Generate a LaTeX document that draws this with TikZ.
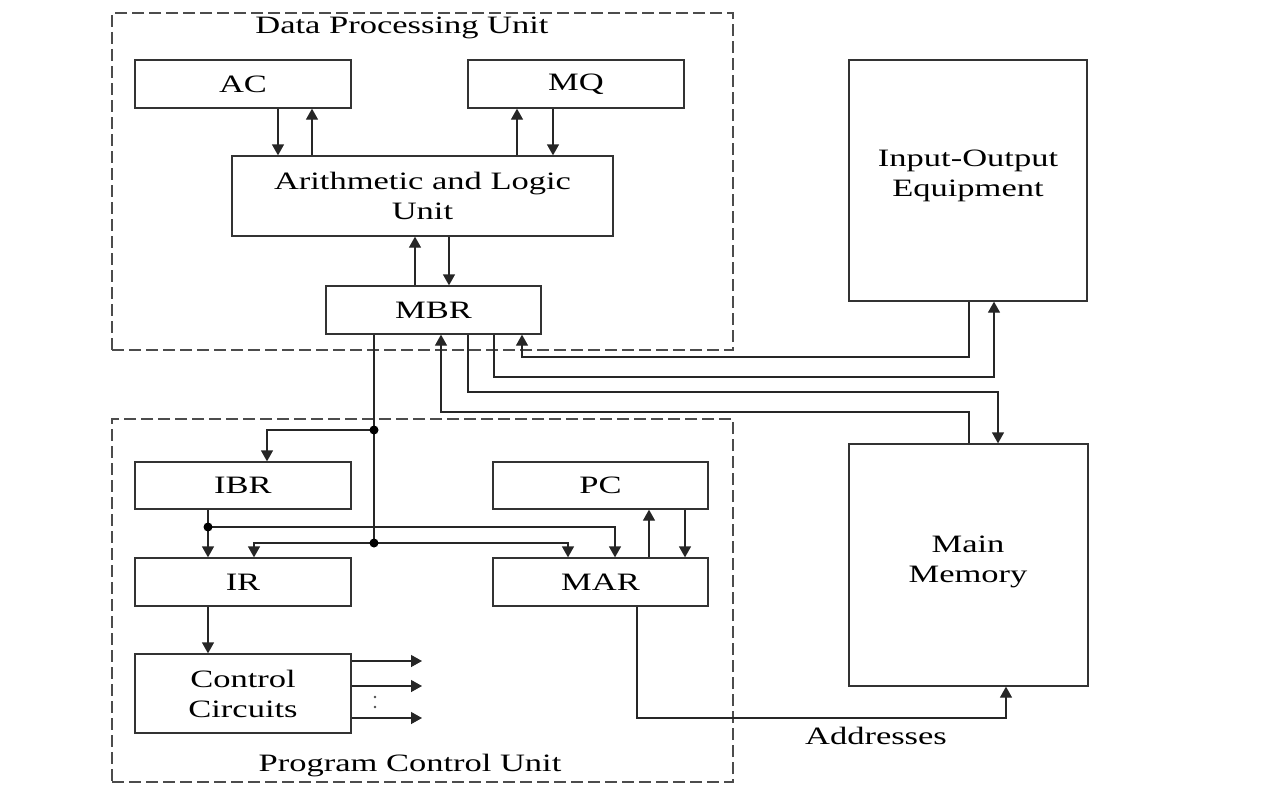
\documentclass[tikz,border=0pt]{standalone}
\usepackage{fontspec}
\setmainfont[FakeStretch=1.38]{Liberation Serif}
\usetikzlibrary{arrows.meta,calc}
\begin{document}
\begin{tikzpicture}[x=1pt,y=-1pt,
  box/.style={draw=black!80, line width=1.3pt, inner sep=0pt, align=center, font=\fontsize{25}{30}\selectfont},
  unit/.style={draw=black!70, line width=1.4pt, dash pattern=on 12pt off 5pt, inner sep=0pt},
  wire/.style={draw=black!85, line width=1.3pt},
  arr/.style={wire, -{Triangle[length=11pt,width=12pt]}},
  dot/.style={circle, fill=black, inner sep=0pt, minimum size=9pt},
  lbl/.style={font=\fontsize{25}{30}\selectfont, inner sep=0pt, align=center}]
\useasboundingbox (0,0) rectangle (1280,787);

% unit frames
\node[unit, minimum width=621pt, minimum height=337pt] (DPU) at (422.5,181.5) {};
\node[unit, minimum width=621pt, minimum height=363pt] (PCU) at (422.5,600.5) {};
\node[lbl] (dput) at (402,28) {Data Processing Unit};
\node[lbl] (pcut) at (410,766) {Program Control Unit};

% boxes
\node[box, minimum width=216pt, minimum height=48pt] (AC) at (243,84) {AC};
\node[box, minimum width=216pt, minimum height=48pt] (MQ) at (576,84) {MQ};
\node[box, minimum width=381pt, minimum height=80pt] (ALU) at (422.5,196) {Arithmetic and Logic\\Unit};
\node[box, minimum width=215pt, minimum height=48pt] (MBR) at (433.5,310) {MBR};
\node[box, minimum width=238pt, minimum height=241pt] (IO) at (968,180.5) {};
\node[lbl] (iot) at (968,176) {Input-Output\\Equipment};
\node[box, minimum width=239pt, minimum height=242pt] (MM) at (968.5,565) {};
\node[lbl] (mmt) at (968,562) {Main\\Memory};
\node[box, minimum width=216pt, minimum height=47pt] (IBR) at (243,485.5) {IBR};
\node[box, minimum width=215pt, minimum height=47pt] (PC) at (600.5,485.5) {PC};
\node[box, minimum width=216pt, minimum height=48pt] (IR) at (243,582) {IR};
\node[box, minimum width=215pt, minimum height=48pt] (MAR) at (600.5,582) {MAR};
\node[box, minimum width=216pt, minimum height=79pt] (CC) at (243,693.5) {Control\\Circuits};
\node[lbl] (addr) at (876,736) {Addresses};

% AC / MQ / ALU / MBR
\coordinate (ac1) at ([xshift=35pt]AC.south);
\coordinate (ac2) at ([xshift=69pt]AC.south);
\coordinate (mq1) at ([xshift=-59pt]MQ.south);
\coordinate (mq2) at ([xshift=-23pt]MQ.south);
\coordinate (mb1) at ([xshift=-18.5pt]MBR.north);
\coordinate (mb2) at ([xshift=15.5pt]MBR.north);
\draw[arr] (ac1) -- (ac1 |- ALU.north);
\draw[arr] (ac2 |- ALU.north) -- (ac2);
\draw[arr] (mq1 |- ALU.north) -- (mq1);
\draw[arr] (mq2) -- (mq2 |- ALU.north);
\draw[arr] (mb1) -- (mb1 |- ALU.south);
\draw[arr] (mb2 |- ALU.south) -- (mb2);

% MBR <-> IO / Memory
\coordinate (b1) at ([xshift=-59.5pt]MBR.south);
\coordinate (b2) at ([xshift=7.5pt]MBR.south);
\coordinate (b3) at ([xshift=34.5pt]MBR.south);
\coordinate (b4) at ([xshift=60.5pt]MBR.south);
\coordinate (b5) at ([xshift=88.5pt]MBR.south);
\coordinate (io1) at ([xshift=1pt]IO.south);
\coordinate (io2) at ([xshift=26pt]IO.south);
\coordinate (mm1) at ([xshift=0.5pt]MM.north);
\coordinate (mm2) at ([xshift=29.5pt]MM.north);
\coordinate (yA) at (0,357);
\coordinate (yB) at (0,377);
\coordinate (yC) at (0,392);
\coordinate (yD) at (0,412);
\draw[arr] (io1) -- (io1 |- yA) -| (b5);
\draw[arr] (b4) |- (io2 |- yB) -- (io2);
\draw[arr] (b3) |- (mm2 |- yC) -- (mm2);
\draw[arr] (mm1) -- (mm1 |- yD) -| (b2);

% program control unit wiring
\coordinate (j1) at (b1 |- 0,430);
\coordinate (j2) at (b1 |- 0,543);
\coordinate (ibr1) at ([xshift=24pt]IBR.north);
\coordinate (ibr2) at ([xshift=-35pt]IBR.south);
\coordinate (j3) at (ibr2 |- 0,527);
\coordinate (ir2) at ([xshift=11pt]IR.north);
\coordinate (mar1) at ([xshift=-32.5pt]MAR.north);
\coordinate (mar2) at ([xshift=14.5pt]MAR.north);
\coordinate (mar3) at ([xshift=48.5pt]MAR.north);
\coordinate (pc2) at ([xshift=84.5pt]PC.south);
\coordinate (ir3) at ([xshift=-35pt]IR.south);
\coordinate (mar4) at ([xshift=36.5pt]MAR.south);
\coordinate (mm3) at ([xshift=37.5pt]MM.south);
\coordinate (yE) at (0,718);
\draw[wire] (b1) -- (j2);
\draw[arr] (j1) -| (ibr1);
\draw[arr] (ibr2) -- (ibr2 |- IR.north);
\draw[arr] (j3) -| (mar2);
\draw[arr] (j2) -| (ir2);
\draw[arr] (j2) -| (mar1);
\draw[arr] (mar3) -- (mar3 |- PC.south);
\draw[arr] (pc2) -- (pc2 |- MAR.north);
\draw[arr] (ir3) -- (ir3 |- CC.north);
\draw[arr] (mar4) |- (mm3 |- yE) -- (mm3);

% control outputs
\coordinate (oe) at (422,0);
\coordinate (cc1) at ([yshift=32.5pt]CC.east);
\coordinate (cc2) at ([yshift=7.5pt]CC.east);
\coordinate (cc3) at ([yshift=-24.5pt]CC.east);
\draw[arr] (cc1) -- (cc1 -| oe);
\draw[arr] (cc2) -- (cc2 -| oe);
\draw[arr] (cc3) -- (cc3 -| oe);
\fill[black!70] (375,697) circle (1.3pt) (375,707) circle (1.3pt);

% junction dots
\node[dot] (d1) at (j1) {};
\node[dot] (d2) at (j2) {};
\node[dot] (d3) at (j3) {};
\end{tikzpicture}
\end{document}
